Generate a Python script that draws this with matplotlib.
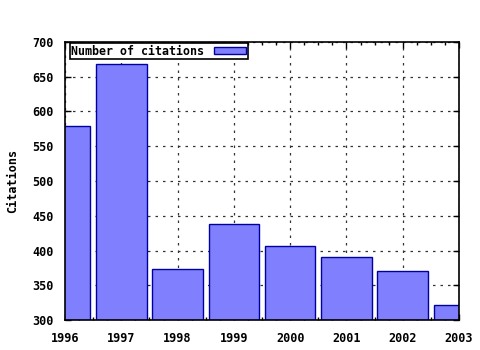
import matplotlib
matplotlib.use("Agg")
import matplotlib.pyplot as plt
from matplotlib.ticker import MultipleLocator

years = [1996, 1997, 1998, 1999, 2000, 2001, 2002, 2003]
citations = [579, 668, 374, 438, 406, 390, 370, 321]
yticks = [300, 350, 400, 450, 500, 550, 600, 650, 700]
legend_label = "Number of citations"
ylabel = "Citations"

font = {"family": "DejaVu Sans Mono", "weight": "bold", "size": 8.5}

fig = plt.figure(figsize=(4.8, 3.5), dpi=100)
ax = fig.add_axes([65/480, 30/350, 394/480, 278/350])

ax.bar(years, [c - 300 for c in citations], bottom=300, width=0.9,
       color="#8080ff", edgecolor="#0000a0", linewidth=1.0,
       label=legend_label, zorder=2)

ax.set_xlim(1996, 2003)
ax.set_ylim(300, 700)
ax.set_xticks(years)
ax.set_yticks(yticks)
ax.xaxis.set_minor_locator(MultipleLocator(0.25))
ax.set_xticklabels([str(y) for y in years], **font)
ax.set_yticklabels([str(v) for v in yticks], **font)
ax.tick_params(axis="y", which="major", direction="in", length=4, width=1,
               right=True, pad=8, colors="black")
ax.tick_params(axis="x", which="major", direction="in", length=4, width=1,
               top=True, pad=9, colors="black")
ax.tick_params(axis="x", which="minor", direction="in", length=2, width=1,
               top=True, bottom=True)
ax.grid(True, which="major", linestyle=(0, (2, 4)), color="#333333", linewidth=0.9, zorder=1)
ax.set_axisbelow(True)
for s in ax.spines.values():
    s.set_linewidth(1.2)
ax.set_ylabel(ylabel, **font)
ax.yaxis.set_label_coords((19 - 65) / 394, 0.5)

leg = ax.legend(loc="upper left", bbox_to_anchor=(0.012, 0.997), frameon=True,
                fancybox=False, edgecolor="black", framealpha=1,
                prop={"family": "DejaVu Sans Mono", "weight": "bold", "size": 8.4},
                markerfirst=False, handlelength=2.8, handleheight=0.6,
                borderpad=0.15, borderaxespad=0.0, handletextpad=0.8)
leg.get_frame().set_linewidth(1.2)

fig.savefig("out.png", dpi=100)
